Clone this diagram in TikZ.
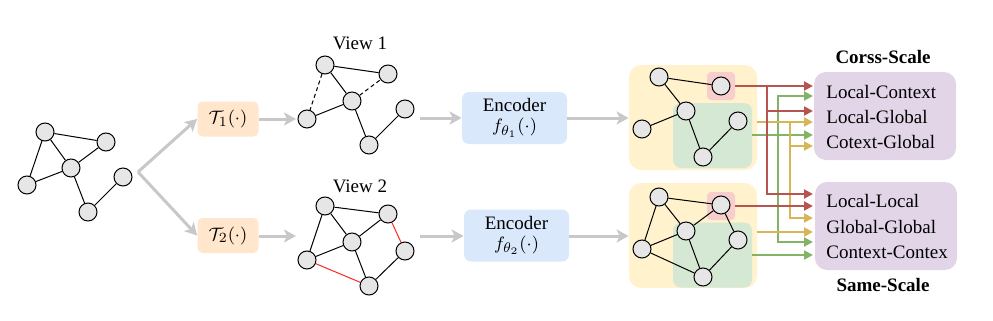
\documentclass[tikz,border=0pt]{standalone}
\usepackage{fontspec}
\setmainfont{Liberation Serif}
\usetikzlibrary{arrows.meta}
\definecolor{gnode}{HTML}{E6E6E6}
\definecolor{arrgray}{HTML}{C8C8C8}
\definecolor{orfill}{HTML}{FFE6CC}
\definecolor{blfill}{HTML}{DAE8FC}
\definecolor{yefill}{HTML}{FFF2CC}
\definecolor{grfill}{HTML}{D5E8D4}
\definecolor{pkfill}{HTML}{F8CECC}
\definecolor{pufill}{HTML}{E1D5E7}
\definecolor{redc}{HTML}{B85450}
\definecolor{greenc}{HTML}{82B366}
\definecolor{yellowc}{HTML}{D6B656}
\begin{document}
\begin{tikzpicture}[x=0.5pt,y=-0.5pt,font=\fontsize{9.5}{11}\selectfont,
  gn/.style={circle,draw=black,fill=gnode,line width=0.5pt,minimum size=9pt,inner sep=0pt},
  ed/.style={line width=0.5pt},
  dashed edge/.style={line width=0.5pt,dash pattern=on 2pt off 1.5pt},
  red edge/.style={line width=0.5pt,draw=red!85!white},
  garr/.style={draw=arrgray,line width=1.5pt,-{Stealth[length=6pt,width=6.5pt,inset=1.5pt]}},
  carr/.style={line width=1pt,-{Triangle[length=4.5pt,width=4.5pt]}},
  tbox/.style={fill=orfill,rounded corners=2.5pt,minimum width=30.5pt,minimum height=17.5pt,inner sep=0pt},
  ebox/.style={fill=blfill,rounded corners=3.5pt,minimum width=52.5pt,minimum height=26pt,inner sep=0pt,align=center},
  ybox/.style={fill=yefill,rounded corners=6pt,minimum width=64pt,minimum height=52.5pt,inner sep=0pt},
  grbox/.style={fill=grfill,rounded corners=4pt,minimum width=39.5pt,minimum height=32.5pt,inner sep=0pt},
  pkbox/.style={fill=pkfill,rounded corners=2pt,minimum width=14pt,minimum height=14pt,inner sep=0pt},
  pbox/.style={fill=pufill,rounded corners=6pt,minimum width=71pt,minimum height=44pt,inner sep=0pt},
  lbl/.style={anchor=west,inner sep=0pt}]
\useasboundingbox (0,0) rectangle (993,321);

% ---------- original graph ----------
\node[gn] (o1) at (45,132) {};
\node[gn] (o2) at (106,142) {};
\node[gn] (o3) at (71,168) {};
\node[gn] (o4) at (27,185) {};
\node[gn] (o5) at (123,177) {};
\node[gn] (o6) at (88,212) {};
\draw[ed] (o1)--(o2) (o1)--(o3) (o1)--(o4) (o2)--(o3) (o4)--(o3) (o3)--(o6) (o6)--(o5);

% ---------- augmentation boxes ----------
\coordinate (br) at (138,172);
\node[tbox] (T1) at (228,119) {$\mathcal{T}_1(\cdot)$};
\node[tbox] (T2) at (228,235.5) {$\mathcal{T}_2(\cdot)$};
\draw[garr] (br) -- (T1.west);
\draw[garr] (br) -- (T2.west);

% ---------- view 1 ----------
\node (V1) at (360,43) {View 1};
\node[gn] (a1) at (325,65) {};
\node[gn] (b1) at (388,74) {};
\node[gn] (c1) at (352,101) {};
\node[gn] (d1) at (307,119) {};
\node[gn] (e1) at (405,109) {};
\node[gn] (f1) at (369,145) {};
\draw[ed] (a1)--(b1) (a1)--(c1) (d1)--(c1) (c1)--(f1) (f1)--(e1);
\draw[dashed edge] (a1)--(d1) (c1)--(b1);

% ---------- view 2 ----------
\node (V2) at (360,186) {View 2};
\node[gn] (a2) at (325,206) {};
\node[gn] (b2) at (388,214) {};
\node[gn] (c2) at (352,242) {};
\node[gn] (d2) at (307,260) {};
\node[gn] (e2) at (405,251) {};
\node[gn] (f2) at (369,286) {};
\draw[ed] (a2)--(b2) (a2)--(d2) (a2)--(c2) (c2)--(b2) (d2)--(c2) (c2)--(f2) (f2)--(e2);
\draw[red edge] (b2)--(e2) (d2)--(f2);

\coordinate (t1in) at (296,119);
\coordinate (t2in) at (296,236);
\draw[garr] (T1.east) -- (t1in);
\draw[garr] (T2.east |- t2in) -- (t2in);

% ---------- encoders ----------
\node[ebox] (E1) at (514.5,118) {Encoder\\[-1pt]$f_{\theta_1}(\cdot)$};
\node[ebox] (E2) at (516.5,235.5) {Encoder\\[-1pt]$f_{\theta_2}(\cdot)$};
\coordinate (v1out) at (420,118);
\coordinate (v2out) at (420,236);
\draw[garr] (v1out) -- (E1.west);
\draw[garr] (v2out) -- (E2.west |- v2out);

% ---------- encoded graphs ----------
\node[ybox] (Y1) at (693,117.5) {};
\node[ybox] (Y2) at (693,235.5) {};
\node[grbox] (G1) at (712.5,135.5) {};
\node[grbox] (G2) at (712.5,255) {};
\node[pkbox] (K1) at (721,86) {};
\node[pkbox] (K2) at (721,206) {};
\draw[garr] (E1.east) -- (E1.east -| Y1.west);
\draw[garr] (E2.east |- v2out) -- (Y2.west |- v2out);

\node[gn] (p1) at (659,77) {};
\node[gn] (p2) at (721,86) {};
\node[gn] (p3) at (686,111) {};
\node[gn] (p4) at (642,129) {};
\node[gn] (p5) at (738,121) {};
\node[gn] (p6) at (703,157) {};
\draw[ed] (p1)--(p2) (p1)--(p3) (p4)--(p3) (p3)--(p6) (p6)--(p5);

\node[gn] (q1) at (659,197) {};
\node[gn] (q2) at (721,205) {};
\node[gn] (q3) at (686,231) {};
\node[gn] (q4) at (642,249) {};
\node[gn] (q5) at (738,240) {};
\node[gn] (q6) at (703,277) {};
\draw[ed] (q1)--(q2) (q1)--(q4) (q1)--(q3) (q3)--(q2) (q4)--(q3) (q3)--(q6) (q6)--(q5) (q2)--(q5) (q4)--(q6);

% ---------- loss boxes ----------
\node[pbox] (P1) at (885,116) {};
\node[pbox] (P2) at (886,226) {};
\node[font=\fontsize{9.5}{11}\bfseries] (CS) at (883,57) {Corss-Scale};
\node[font=\fontsize{9.5}{11}\bfseries] (SS) at (883,285) {Same-Scale};
\node[lbl] (L1) at (826,92) {Local-Context};
\node[lbl] (L2) at (826,117) {Local-Global};
\node[lbl] (L3) at (826,142) {Cotext-Global};
\node[lbl] (L4) at (826,201) {Local-Local};
\node[lbl] (L5) at (826,227) {Global-Global};
\node[lbl] (L6) at (826,252) {Context-Contex};

% ---------- coloured connectors ----------
\coordinate (r1) at (813,86);
\coordinate (r2) at (813,111);
\coordinate (r3) at (813,194);
\coordinate (r4) at (813,206);
\coordinate (rj) at (767,86);
\coordinate (y1) at (813,122);
\coordinate (y2) at (813,146);
\coordinate (y3) at (813,218);
\coordinate (y4) at (813,232);
\coordinate (ya) at (757,122);
\coordinate (yb) at (757,232);
\coordinate (yj) at (790,122);
\coordinate (g1) at (813,96);
\coordinate (g2) at (813,135);
\coordinate (g3) at (813,242);
\coordinate (g4) at (813,255);
\coordinate (ga) at (752,135);
\coordinate (gb) at (752,255);
\coordinate (gj) at (778,135);

\draw[carr,draw=greenc] (gj) |- (g1);
\draw[carr,draw=greenc] (gj) |- (g3);
\draw[carr,draw=greenc] (ga) -- (g2);
\draw[carr,draw=greenc] (gb) -- (g4);

\draw[carr,draw=yellowc] (ya) -- (y1);
\draw[carr,draw=yellowc] (yj) |- (y2);
\draw[carr,draw=yellowc] (yj) |- (y3);
\draw[carr,draw=yellowc] (yb) -- (y4);

\draw[carr,draw=redc] (K1.east) -- (r1);
\draw[carr,draw=redc] (rj) |- (r2);
\draw[carr,draw=redc] (rj) |- (r3);
\draw[carr,draw=redc] (K2.east) -- (r4);
\end{tikzpicture}
\end{document}
